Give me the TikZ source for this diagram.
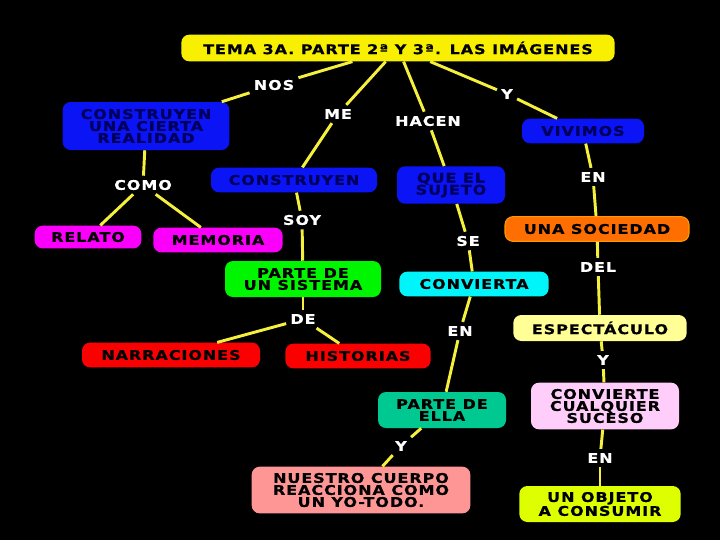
\documentclass[tikz,border=0pt]{standalone}
\usepackage{fontspec}
\setmainfont{DejaVu Sans}[FakeStretch=1.2,LetterSpace=7,FakeBold=0.6]
\definecolor{amarillo}{RGB}{248,240,0}
\definecolor{azul}{RGB}{10,20,245}
\definecolor{marino}{RGB}{0,0,90}
\definecolor{fucsia}{RGB}{250,0,250}
\definecolor{verde}{RGB}{0,245,0}
\definecolor{celeste}{RGB}{0,245,250}
\definecolor{naranja}{RGB}{255,110,0}
\definecolor{crema}{RGB}{255,255,150}
\definecolor{rojo}{RGB}{250,0,0}
\definecolor{rosa}{RGB}{255,205,250}
\definecolor{turquesa}{RGB}{0,200,145}
\definecolor{salmon}{RGB}{255,150,150}
\definecolor{lima}{RGB}{222,255,0}
\definecolor{trazo}{RGB}{245,240,60}
\begin{document}
\begin{tikzpicture}[x=0.75pt,y=-0.75pt,
  every node/.style={font=\fontsize{10}{9}\selectfont\bfseries,align=center},
  concepto/.style={rounded corners=6pt,minimum height=18.5pt,inner sep=2pt},
  enlace/.style={text=white,inner sep=3pt},
  linea/.style={draw=trazo,line width=2.2pt}]
  \fill[black] (0,0) rectangle (720,540);
  \useasboundingbox (0,0) rectangle (720,540);

  % Conceptos
  \node[concepto,fill=amarillo,minimum width=325pt,minimum height=20pt] (tema) at (398,48) {TEMA 3A. PARTE 2ª Y 3ª. LAS IMÁGENES};
  \node[concepto,fill=azul,text=marino,minimum width=125pt,minimum height=36pt] (cierta) at (146,126) {CONSTRUYEN\\UNA CIERTA\\REALIDAD};
  \node[concepto,fill=azul,text=marino,minimum width=91.5pt] (vivimos) at (583,131) {VIVIMOS};
  \node[concepto,fill=azul,text=marino,minimum width=124.5pt] (construyen) at (294,180) {CONSTRUYEN};
  \node[concepto,fill=azul,text=marino,minimum width=81pt,minimum height=28pt] (sujeto) at (451,185) {QUE EL\\SUJETO};
  \node[concepto,fill=naranja,draw=naranja!70!yellow,thick,minimum width=138pt] (sociedad) at (597,229) {UNA SOCIEDAD};
  \node[concepto,fill=fucsia,minimum width=80pt,minimum height=17pt] (relato) at (88,237) {RELATO};
  \node[concepto,fill=fucsia,minimum width=97pt] (memoria) at (218,240) {MEMORIA};
  \node[concepto,fill=verde,minimum width=117pt,minimum height=27pt] (sistema) at (303,279) {PARTE DE\\UN SISTEMA};
  \node[concepto,fill=celeste,minimum width=112pt] (convierta) at (474,284) {CONVIERTA};
  \node[concepto,fill=crema,minimum width=130pt,minimum height=19.5pt] (espectaculo) at (600,328) {ESPECTÁCULO};
  \node[concepto,fill=rojo,minimum width=133.5pt] (narraciones) at (171,355) {NARRACIONES};
  \node[concepto,fill=rojo,minimum width=109pt] (historias) at (358,356) {HISTORIAS};
  \node[concepto,fill=rosa,minimum width=111pt,minimum height=35pt] (suceso) at (605,406) {CONVIERTE\\CUALQUIER\\SUCESO};
  \node[concepto,fill=turquesa,minimum width=96pt,minimum height=27pt] (ella) at (442,410) {PARTE DE\\ELLA};
  \node[concepto,fill=salmon,minimum width=164pt,minimum height=35pt] (cuerpo) at (361,490) {NUESTRO CUERPO\\REACCIONA COMO\\UN YO-TODO.};
  \node[concepto,fill=lima,minimum width=121pt,minimum height=27pt] (objeto) at (600,504) {UN OBJETO\\A CONSUMIR};

  % Palabras de enlace
  \node[enlace] (nos) at (274,85) {NOS};
  \node[enlace] (me) at (338,114) {ME};
  \node[enlace] (hacen) at (428,121) {HACEN};
  \node[enlace] (y1) at (507,94) {Y};
  \node[enlace] (como) at (143,185) {COMO};
  \node[enlace] (soy) at (302,220) {SOY};
  \node[enlace] (en1) at (593,177) {EN};
  \node[enlace] (se) at (468,241) {SE};
  \node[enlace] (del) at (598,267) {DEL};
  \node[enlace] (de) at (303,319) {DE};
  \node[enlace] (en2) at (460,331) {EN};
  \node[enlace] (y2) at (603,360) {Y};
  \node[enlace] (y3) at (401,446) {Y};
  \node[enlace] (en3) at (600,458) {EN};

  % Líneas
  \foreach \from/\to in {tema/nos, nos/cierta, tema/me, me/construyen, tema/hacen, hacen/sujeto,
      tema/y1, y1/vivimos, cierta/como, como/relato, como/memoria, construyen/soy, soy/sistema,
      sujeto/se, se/convierta, vivimos/en1, en1/sociedad, sociedad/del, del/espectaculo,
      sistema/de, de/narraciones, de/historias, convierta/en2, en2/ella, espectaculo/y2, y2/suceso,
      ella/y3, y3/cuerpo, suceso/en3, en3/objeto}
    \draw[linea] (\from) -- (\to);
\end{tikzpicture}
\end{document}
